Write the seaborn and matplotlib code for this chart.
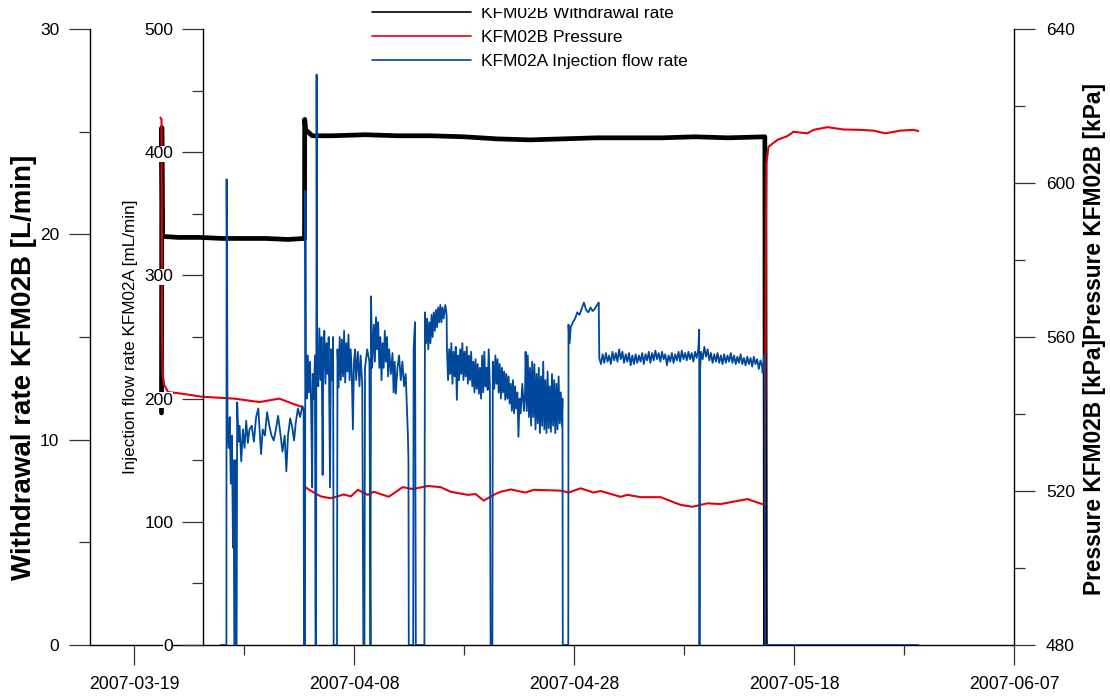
import numpy as np
import pandas as pd
import matplotlib
matplotlib.use("Agg")
import matplotlib.pyplot as plt
import matplotlib.dates as mdates
from matplotlib.ticker import MultipleLocator
from matplotlib.patches import Rectangle
from matplotlib.lines import Line2D
import seaborn as sns

START = pd.Timestamp("2007-03-19")
X_MIN = pd.Timestamp("2007-03-15")
X_MAX = pd.Timestamp("2007-06-07")

# ---- KFM02B withdrawal rate [L/min] (days after 2007-03-19) ----
wd_days = [2.50, 2.53, 2.60, 4.0, 6.0, 8.0, 10.0, 12.0, 14.0, 15.45, 15.50, 15.52, 15.60,
           16.2, 18.0, 21.0, 24.0, 27.0, 30.0, 33.0, 36.0, 39.0, 42.0, 45.0, 48.0, 51.0,
           54.0, 57.35, 57.40]
wd_vals = [11.3, 25.2, 19.9, 19.85, 19.85, 19.8, 19.8, 19.8, 19.75, 19.8, 19.8, 25.6, 25.1,
           24.8, 24.8, 24.85, 24.8, 24.8, 24.75, 24.65, 24.6, 24.65, 24.7, 24.7, 24.7, 24.75,
           24.7, 24.75, 0.0]

# ---- KFM02B pressure [kPa] ----
pr_days = [2.40, 2.50, 2.55, 2.60, 2.75, 3.10, 4.0, 5.0, 6.1, 9.1, 11.4, 13.2, 14.5, 15.3,
           15.45, 15.55, 16.35, 16.98, 17.89, 19.07, 19.71, 20.35, 21.25, 21.80, 23.16,
           24.43, 25.34, 26.70, 27.88, 28.79, 30.34, 31.06, 31.79, 32.70, 33.33, 34.24,
           35.60, 36.33, 38.78, 39.51, 40.60, 41.78, 42.42, 44.23, 44.87, 46.05, 47.87,
           49.68, 50.77, 52.13, 53.32, 55.77, 56.68, 57.35, 57.45, 57.50, 57.68, 58.49,
           59.41, 59.95, 61.23, 61.77, 63.04, 64.49, 66.04, 67.21, 68.30, 69.67, 70.85, 71.30]
pr_vals = [617.0, 616.5, 560.0, 550.6, 547.5, 545.7, 545.4, 545.0, 544.5, 544.0, 543.1,
           544.0, 542.6, 541.8, 541.4, 521.0, 519.6, 518.6, 518.1, 519.1, 518.6, 520.3,
           519.0, 519.8, 518.5, 521.0, 520.5, 521.3, 521.0, 519.8, 519.0, 519.2, 517.5,
           519.0, 519.8, 520.4, 519.6, 520.3, 520.1, 519.6, 520.7, 519.6, 520.0, 518.5,
           519.0, 518.4, 518.4, 516.4, 515.9, 516.8, 516.6, 517.9, 517.0, 516.4, 590.0,
           605.2, 609.4, 611.2, 612.2, 613.3, 612.9, 613.8, 614.5, 613.9, 613.8, 613.6,
           612.9, 613.6, 613.8, 613.5]

# ---- KFM02A injection flow rate [mL/min], part A (to the step on 2007-05-01) ----
inj_days_a = [
    7.90, 8.40, 8.42, 8.47, 8.50, 8.60, 8.70, 8.80, 8.90, 9.00, 9.05, 9.12, 9.18, 9.22, 9.28,
    9.33, 9.38, 9.50, 9.60, 9.75, 9.90, 10.05, 10.20, 10.35, 10.50, 10.70, 10.90, 11.10,
    11.30, 11.45, 11.55, 11.70, 11.90, 12.10, 12.30, 12.50, 12.70, 12.90, 13.10, 13.30,
    13.50, 13.70, 13.85, 14.00, 14.20, 14.40, 14.55, 14.70, 14.90, 15.10, 15.30, 15.42,
    15.45, 15.55, 15.58, 15.62, 15.70, 15.80, 15.90, 16.00, 16.10, 16.20, 16.25, 16.35,
    16.45, 16.50, 16.55, 16.60, 16.65, 16.75, 16.85, 16.95, 17.05, 17.15, 17.20, 17.30,
    17.40, 17.50, 17.60, 17.70, 17.82, 17.90, 18.00, 18.10, 18.15, 18.45, 18.50, 18.60,
    18.70, 18.80, 18.90, 19.00, 19.10, 19.20, 19.30, 19.40, 19.50, 19.60, 19.70, 19.80,
    19.90, 20.00, 20.10, 20.20, 20.35, 20.50, 20.60, 20.75, 20.85, 20.95, 21.00, 21.20,
    21.40, 21.50, 21.55, 21.65, 21.80, 21.90, 22.00, 22.10, 22.20, 22.30, 22.40, 22.50,
    22.60, 22.70, 22.80, 22.90, 23.00, 23.10, 23.20, 23.35, 23.50, 23.60, 23.70, 23.80,
    23.95, 24.10, 24.25, 24.40, 24.55, 24.70, 24.80, 24.90, 24.95, 24.98, 25.38, 25.42,
    25.50, 25.55, 25.62, 26.40, 26.45, 26.55, 26.65, 26.75, 26.85, 26.95, 27.05, 27.15,
    27.25, 27.35, 27.45, 27.55, 27.65, 27.75, 27.85, 27.95, 28.05, 28.15, 28.30, 28.42,
    28.45, 28.55, 28.65, 28.75, 28.85, 28.95, 29.05, 29.15, 29.25, 29.35, 29.45, 29.55,
    29.65, 29.75, 29.85, 29.95, 30.05, 30.15, 30.25, 30.35, 30.45, 30.55, 30.65, 30.75,
    30.85, 30.95, 31.05, 31.15, 31.25, 31.35, 31.45, 31.55, 31.65, 31.75, 31.85, 31.95,
    32.05, 32.15, 32.25, 32.35, 32.42, 32.58, 32.62, 32.75, 32.85, 32.95, 33.05, 33.15,
    33.25, 33.35, 33.45, 33.55, 33.65, 33.75, 33.85, 33.95, 34.05, 34.15, 34.25, 34.35,
    34.45, 34.55, 34.65, 34.75, 34.85, 34.95, 35.05, 35.15, 35.30, 35.45, 35.55, 35.60,
    35.70, 35.80, 35.90, 36.00, 36.10, 36.20, 36.30, 36.40, 36.50, 36.60, 36.70, 36.80,
    36.90, 37.00, 37.10, 37.20, 37.30, 37.40, 37.50, 37.60, 37.70, 37.80, 37.90, 38.00,
    38.10, 38.20, 38.30, 38.40, 38.50, 38.60, 38.70, 38.80, 38.90, 38.95, 38.98, 39.48,
    39.50, 39.60, 39.70, 39.90, 40.10, 40.30, 40.50, 40.70, 40.90, 41.10, 41.30, 41.50,
    41.70, 41.90, 42.10, 42.25]
inj_vals_a = [
    0, 0, 378, 278, 178, 160, 185, 131, 170, 79, 150, 0, 0, 150, 0,
    0, 197, 165, 178, 149, 175, 160, 182, 164, 175, 178, 165, 185,
    192, 170, 155, 175, 170, 189, 178, 170, 166, 175, 186, 172,
    157, 170, 141, 170, 184, 176, 166, 180, 192, 185, 194, 190,
    0, 0, 369, 220, 200, 235, 205, 230, 195, 128, 220, 200,
    235, 0, 0, 463, 240, 210, 257, 215, 250, 138, 230, 255,
    212, 245, 220, 250, 128, 240, 215, 250, 0, 0, 240, 209,
    250, 215, 248, 218, 255, 213, 245, 222, 252, 215, 240, 220,
    175, 230, 240, 215, 238, 210, 235, 212, 0, 0, 225, 240,
    230, 0, 283, 225, 260, 230, 266, 240, 262, 225, 250, 215,
    245, 225, 255, 230, 250, 218, 240, 220, 237, 205, 230, 204,
    225, 235, 215, 230, 210, 220, 195, 170, 150, 0, 0, 240,
    255, 262, 0, 0, 270, 245, 265, 240, 262, 245, 268, 250,
    270, 255, 272, 258, 274, 262, 276, 262, 274, 265, 276, 268,
    240, 215, 240, 220, 245, 212, 238, 218, 242, 199, 235, 215,
    240, 220, 245, 215, 238, 218, 242, 212, 235, 215, 238, 210,
    230, 205, 232, 208, 228, 204, 225, 200, 235, 205, 238, 210,
    225, 207, 240, 210, 0, 0, 230, 208, 235, 212, 232, 205,
    228, 200, 225, 205, 222, 199, 220, 200, 218, 196, 212, 190,
    215, 188, 210, 192, 205, 169, 200, 188, 212, 190, 205, 238,
    190, 235, 185, 225, 178, 230, 185, 228, 175, 220, 180, 225,
    172, 218, 178, 230, 175, 215, 172, 222, 176, 210, 173, 220,
    178, 215, 172, 212, 175, 218, 180, 205, 178, 200, 0, 0,
    260, 245, 258, 262, 265, 270, 268, 273, 278, 272, 270, 274,
    271, 273, 276, 278]

# ---- part B (steady period after the step, then shut-in) ----
inj_days_b = [
    42.30, 42.45, 42.60, 42.75, 42.90, 43.05, 43.20, 43.35, 43.50, 43.65, 43.80, 43.95,
    44.10, 44.25, 44.40, 44.55, 44.70, 44.85, 45.00, 45.15, 45.30, 45.45, 45.60, 45.75,
    45.90, 46.05, 46.20, 46.35, 46.50, 46.65, 46.80, 46.95, 47.10, 47.25, 47.40, 47.55,
    47.70, 47.85, 48.00, 48.15, 48.30, 48.45, 48.60, 48.75, 48.90, 49.05, 49.20, 49.35,
    49.50, 49.65, 49.80, 49.95, 50.10, 50.25, 50.40, 50.55, 50.70, 50.85, 51.00, 51.15,
    51.30, 51.38, 51.41, 51.45, 51.55, 51.70, 51.85, 52.00, 52.15, 52.30, 52.45, 52.60,
    52.75, 52.90, 53.05, 53.20, 53.35, 53.50, 53.65, 53.80, 53.95, 54.10, 54.25, 54.40,
    54.55, 54.70, 54.85, 55.00, 55.15, 55.30, 55.45, 55.60, 55.75, 55.90, 56.05, 56.20,
    56.35, 56.50, 56.65, 56.80, 56.95, 57.10, 57.15, 57.25, 57.32, 57.38, 71.30]
inj_vals_b = [
    233, 228, 236, 229, 237, 230, 235, 228, 238, 231, 237, 230,
    240, 232, 238, 229, 236, 230, 237, 227, 235, 228, 236, 229,
    235, 230, 237, 228, 236, 231, 238, 229, 237, 231, 239, 232,
    237, 230, 238, 232, 236, 227, 235, 230, 237, 229, 236, 231,
    238, 230, 239, 232, 237, 231, 238, 232, 237, 230, 238, 233,
    240, 256, 0, 222, 238, 232, 242, 234, 240, 231, 237, 229,
    236, 230, 237, 229, 235, 228, 236, 229, 235, 230, 237, 229,
    235, 228, 234, 229, 236, 228, 233, 227, 234, 228, 233, 226,
    234, 228, 232, 224, 231, 226, 221, 233, 236, 0, 0]

inj_days = inj_days_a + inj_days_b
inj_vals = inj_vals_a + inj_vals_b


def to_dt(days):
    return START + pd.to_timedelta(np.asarray(days, dtype=float), unit="D")


sns.set_theme(style="ticks")
plt.rcParams["font.family"] = ["Liberation Sans", "DejaVu Sans"]
plt.rcParams["text.color"] = "black"
plt.rcParams["axes.labelcolor"] = "black"

W, H = 1110, 697
fig = plt.figure(figsize=(W / 100, H / 100), dpi=100)
fig.patch.set_facecolor("white")
ax = fig.add_axes([90 / W, (H - 645) / H, 924 / W, 616 / H])
axp = ax.twinx()
axi = ax.twinx()

C_BLACK = "#000000"
C_RED = "#e3000f"
C_BLUE = "#00489c"

df_w = pd.DataFrame({"t": to_dt(wd_days), "v": wd_vals})
df_p = pd.DataFrame({"t": to_dt(pr_days), "v": pr_vals})
df_i = pd.DataFrame({"t": to_dt(inj_days), "v": inj_vals})

sns.lineplot(data=df_w, x="t", y="v", ax=ax, color=C_BLACK, lw=3.4,
             estimator=None, sort=False, legend=False)
sns.lineplot(data=df_p, x="t", y="v", ax=axp, color=C_RED, lw=1.5,
             estimator=None, sort=False, legend=False)
sns.lineplot(data=df_i, x="t", y="v", ax=axi, color=C_BLUE, lw=1.3,
             estimator=None, sort=False, legend=False)

ax.set_xlim(X_MIN, X_MAX)
ax.set_ylim(0, 30)
axi.set_ylim(0, 500)
axp.set_ylim(480, 640)
for a in (ax, axp, axi):
    a.set_xlabel("")
    a.set_ylabel("")

# x ticks every 20 days from 2007-03-19, minor every 10
base = mdates.date2num(START.to_pydatetime())
ax.xaxis.set_major_locator(MultipleLocator(20, offset=base % 20))
ax.xaxis.set_minor_locator(MultipleLocator(10, offset=base % 10))
ax.xaxis.set_major_formatter(mdates.DateFormatter("%Y-%m-%d"))

ax.yaxis.set_major_locator(MultipleLocator(10))
ax.yaxis.set_minor_locator(MultipleLocator(5))
axi.yaxis.set_major_locator(MultipleLocator(100))
axi.yaxis.set_minor_locator(MultipleLocator(50))
axp.yaxis.set_major_locator(MultipleLocator(40))
axp.yaxis.set_minor_locator(MultipleLocator(20))

# spines
ax.spines["top"].set_visible(False)
ax.spines["right"].set_visible(False)
for s in ("top", "left", "bottom"):
    axp.spines[s].set_visible(False)
for s in ("top", "right", "bottom"):
    axi.spines[s].set_visible(False)
axi.spines["left"].set_visible(True)
axi.spines["left"].set_position(("axes", 113 / 924))
axi.yaxis.tick_left()
for a in (ax, axp, axi):
    for s in a.spines.values():
        s.set_color("black")
        s.set_linewidth(1.0)

tick_col = "#333333"
ax.tick_params(axis="x", which="major", direction="out", length=14.4, width=0.9,
               labelsize=12.7, pad=8, color=tick_col, labelcolor="black")
ax.tick_params(axis="x", which="minor", direction="out", length=7.2, width=0.9, color=tick_col)
for a, pad in ((ax, 7), (axi, 6.5), (axp, 8)):
    a.tick_params(axis="y", which="major", direction="out", length=15, width=0.9,
                  labelsize=12.5, pad=pad, color=tick_col, labelcolor="black")
    a.tick_params(axis="y", which="minor", direction="out", length=8, width=0.9, color=tick_col)

# axis titles
fig.text(24 / W, 1 - 367 / H, "Withdrawal rate KFM02B [L/min]", rotation=90,
         ha="center", va="center", fontsize=20, fontweight="bold", color="black")
fig.text(130 / W, 1 - 337 / H, "Injection flow rate KFM02A [mL/min]", rotation=90,
         ha="center", va="center", fontsize=12.3, color="black")
fig.text(1095 / W, 1 - 339 / H, "Pressure KFM02B [kPa]Pressure KFM02B [kPa]", rotation=90,
         ha="center", va="center", fontsize=16.4, fontweight="bold", color="black")

# legend
labels = ["KFM02B Withdrawal rate", "KFM02B Pressure", "KFM02A Injection flow rate"]
hnd = [Line2D([], [], color=C_BLACK, lw=1.2), Line2D([], [], color=C_RED, lw=1.2),
       Line2D([], [], color=C_BLUE, lw=1.2)]
leg = fig.legend(hnd, labels, loc="upper left", bbox_to_anchor=(372 / W, 1 - 6 / H),
                 frameon=False, fontsize=12.5, handlelength=5.7, handletextpad=0.58,
                 labelspacing=0.5, borderpad=0, borderaxespad=0)
for t in leg.get_texts():
    t.set_color("black")
fig.patches.append(Rectangle((470 / W, 1 - 8 / H), 260 / W, 8 / H, transform=fig.transFigure,
                             facecolor="white", edgecolor="none", zorder=10))

fig.canvas.draw()
for t in axi.yaxis.get_major_ticks():
    t.label1.set_bbox(dict(facecolor="white", edgecolor="none", pad=0.3))

fig.savefig("out.png", dpi=100, facecolor="white")
